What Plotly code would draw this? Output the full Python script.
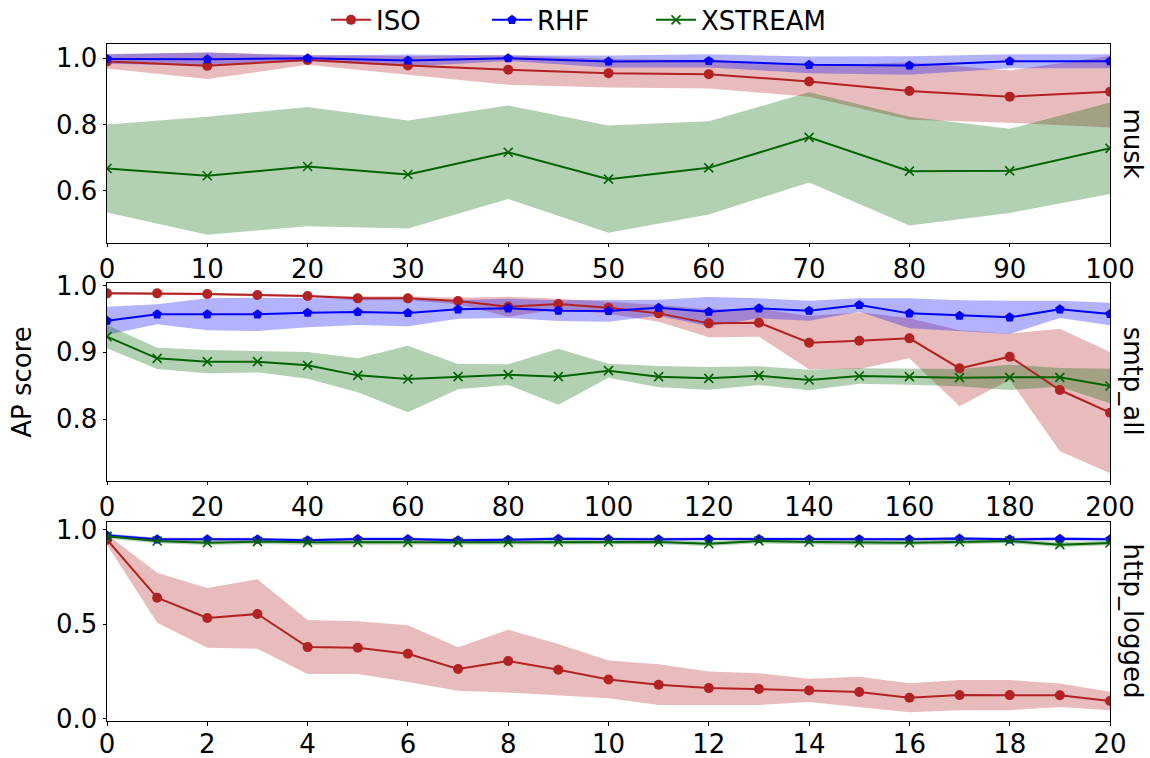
import plotly.graph_objects as go

# ---------------- data ----------------
musk_x = [0, 10, 20, 30, 40, 50, 60, 70, 80, 90, 100]
musk_iso_mean = [0.990, 0.977, 0.995, 0.978, 0.965, 0.955, 0.952, 0.930, 0.901, 0.884, 0.899]
musk_iso_std = [0.021, 0.040, 0.015, 0.028, 0.045, 0.043, 0.043, 0.046, 0.087, 0.079, 0.108]
musk_rhf_mean = [0.998, 0.997, 1.000, 0.993, 1.000, 0.990, 0.992, 0.980, 0.978, 0.991, 0.991]
musk_rhf_std = [0.015, 0.020, 0.008, 0.018, 0.008, 0.018, 0.020, 0.025, 0.028, 0.021, 0.021]
musk_xs_mean = [0.667, 0.645, 0.673, 0.649, 0.716, 0.635, 0.669, 0.761, 0.659, 0.660, 0.728]
musk_xs_std = [0.133, 0.178, 0.180, 0.163, 0.141, 0.162, 0.141, 0.136, 0.164, 0.127, 0.138]

smtp_x = [0, 10, 20, 30, 40, 50, 60, 70, 80, 90, 100,
          110, 120, 130, 140, 150, 160, 170, 180, 190, 200]
smtp_iso_mean = [0.9885, 0.9885, 0.9875, 0.986, 0.9845, 0.981, 0.981, 0.977, 0.9685, 0.9725, 0.967,
                 0.9585, 0.9435, 0.9445, 0.9145, 0.9175, 0.921, 0.876, 0.8935, 0.8435, 0.8095]
smtp_iso_std = [0.002, 0.002, 0.002, 0.002, 0.002, 0.003, 0.003, 0.005, 0.015, 0.008, 0.009,
                0.0125, 0.021, 0.021, 0.040, 0.0425, 0.030, 0.057, 0.0345, 0.092, 0.091]
smtp_rhf_mean = [0.9475, 0.957, 0.957, 0.957, 0.9595, 0.9605, 0.959, 0.9645, 0.966, 0.9625, 0.962,
                 0.967, 0.961, 0.966, 0.9625, 0.971, 0.9585, 0.955, 0.9525, 0.9645, 0.9575]
smtp_rhf_std = [0.021, 0.015, 0.024, 0.025, 0.022, 0.0195, 0.020, 0.014, 0.0145, 0.0155, 0.016,
                0.012, 0.022, 0.015, 0.015, 0.010, 0.0225, 0.023, 0.025, 0.013, 0.017]
smtp_xs_mean = [0.9235, 0.891, 0.886, 0.886, 0.8805, 0.8655, 0.860, 0.8635, 0.8665, 0.8635, 0.8725,
                0.8635, 0.861, 0.865, 0.8585, 0.8645, 0.8635, 0.862, 0.8625, 0.8625, 0.8495]
smtp_xs_std = [0.0175, 0.016, 0.0175, 0.016, 0.020, 0.0255, 0.050, 0.019, 0.0155, 0.042, 0.0105,
               0.016, 0.017, 0.014, 0.0155, 0.0115, 0.012, 0.013, 0.019, 0.014, 0.026]

http_x = list(range(0, 21))
http_iso_mean = [0.946, 0.639, 0.532, 0.553, 0.378, 0.375, 0.343, 0.262, 0.304, 0.258, 0.207,
                 0.179, 0.161, 0.156, 0.149, 0.140, 0.110, 0.124, 0.124, 0.123, 0.093]
http_iso_std = [0.027, 0.132, 0.158, 0.184, 0.143, 0.140, 0.150, 0.115, 0.166, 0.137, 0.100,
                0.108, 0.088, 0.084, 0.062, 0.081, 0.077, 0.080, 0.080, 0.062, 0.049]
http_rhf_mean = [0.969, 0.948, 0.948, 0.948, 0.943, 0.950, 0.950, 0.943, 0.946, 0.951, 0.950,
                 0.948, 0.950, 0.950, 0.948, 0.949, 0.948, 0.952, 0.948, 0.951, 0.948]
http_rhf_std = [0.010, 0.008, 0.008, 0.008, 0.008, 0.008, 0.008, 0.008, 0.008, 0.008, 0.008,
                0.008, 0.008, 0.008, 0.008, 0.008, 0.008, 0.008, 0.008, 0.008, 0.008]
http_xs_mean = [0.964, 0.939, 0.930, 0.936, 0.932, 0.932, 0.932, 0.932, 0.932, 0.934, 0.934,
                0.934, 0.925, 0.939, 0.934, 0.930, 0.930, 0.934, 0.939, 0.920, 0.929]
http_xs_std = [0.012, 0.012, 0.012, 0.012, 0.012, 0.012, 0.012, 0.012, 0.012, 0.012, 0.012,
               0.012, 0.012, 0.012, 0.012, 0.012, 0.012, 0.012, 0.012, 0.012, 0.012]

dataset_names = ["musk", "smtp_all", "http_logged"]
method_names = ["ISO", "RHF", "XSTREAM"]

# ---------------- styling ----------------
FONT = "DejaVu Sans"
FS = 26
line_colors = {"ISO": "#b22222", "RHF": "#0000ff", "XSTREAM": "#006400"}
band_colors = {"ISO": "rgba(178,34,34,0.3)", "RHF": "rgba(0,0,255,0.3)",
               "XSTREAM": "rgba(0,100,0,0.3)"}
markers = {
    "ISO": dict(symbol="circle", size=10),
    "RHF": dict(symbol="pentagon", size=10),
    "XSTREAM": dict(symbol="x-thin", size=9, line=dict(width=1.6, color="#006400")),
}
# one legend box per method, laid out in a row above the top panel
legend_ids = {"ISO": "legend", "RHF": "legend2", "XSTREAM": "legend3"}
legend_left_px = {"ISO": 326, "RHF": 487, "XSTREAM": 651}

panels = [
    dict(x=musk_x, series={"ISO": (musk_iso_mean, musk_iso_std),
                           "RHF": (musk_rhf_mean, musk_rhf_std),
                           "XSTREAM": (musk_xs_mean, musk_xs_std)},
         yrange=[0.443, 1.043], ytick=[0.6, 0.8, 1.0], xrange=[0, 100], dtick=10,
         domain=[0.7065, 1.0], standoff=0),
    dict(x=smtp_x, series={"ISO": (smtp_iso_mean, smtp_iso_std),
                           "RHF": (smtp_rhf_mean, smtp_rhf_std),
                           "XSTREAM": (smtp_xs_mean, smtp_xs_std)},
         yrange=[0.7075, 1.0045], ytick=[0.8, 0.9, 1.0], xrange=[0, 200], dtick=20,
         domain=[0.355, 0.6474], standoff=0),
    dict(x=http_x, series={"ISO": (http_iso_mean, http_iso_std),
                           "RHF": (http_rhf_mean, http_rhf_std),
                           "XSTREAM": (http_xs_mean, http_xs_std)},
         yrange=[-0.013, 1.04], ytick=[0.0, 0.5, 1.0], xrange=[0, 20], dtick=2,
         domain=[0.0, 0.294], standoff=-4),
]

fig = go.Figure()

for i, p in enumerate(panels):
    suffix = "" if i == 0 else str(i + 1)
    xa, ya = "x" + suffix, "y" + suffix
    # shaded mean +/- std bands
    for m in method_names:
        mean, std = p["series"][m]
        lower = [a - b for a, b in zip(mean, std)]
        upper = [a + b for a, b in zip(mean, std)]
        fig.add_trace(go.Scatter(x=p["x"], y=lower, xaxis=xa, yaxis=ya, mode="lines",
                                 line=dict(width=0), showlegend=False, hoverinfo="skip"))
        fig.add_trace(go.Scatter(x=p["x"], y=upper, xaxis=xa, yaxis=ya, mode="lines",
                                 line=dict(width=0), fill="tonexty",
                                 fillcolor=band_colors[m], showlegend=False, hoverinfo="skip"))
    # mean curves
    for m in method_names:
        mean, _ = p["series"][m]
        fig.add_trace(go.Scatter(x=p["x"], y=mean, xaxis=xa, yaxis=ya, mode="lines+markers",
                                 name=m, line=dict(color=line_colors[m], width=2),
                                 marker=dict(color=line_colors[m], **markers[m]),
                                 legend=legend_ids[m], showlegend=(i == 0)))

axis_common = dict(showline=True, linecolor="black", linewidth=1, mirror=True,
                   ticks="outside", ticklen=3.5, tickwidth=1, tickcolor="black",
                   showgrid=False, zeroline=False,
                   tickfont=dict(family=FONT, size=FS, color="black"))

layout_axes = {}
for i, p in enumerate(panels):
    suffix = "" if i == 0 else str(i + 1)
    layout_axes["xaxis" + suffix] = dict(axis_common, range=p["xrange"], dtick=p["dtick"],
                                         tick0=0, anchor="y" + suffix, domain=[0, 1],
                                         ticklabelstandoff=p["standoff"])
    layout_axes["yaxis" + suffix] = dict(axis_common, range=p["yrange"], tickvals=p["ytick"],
                                         tickformat=".1f", anchor="x" + suffix,
                                         domain=p["domain"])

annotations = []
for i, p in enumerate(panels):
    annotations.append(dict(text=dataset_names[i], xref="paper", yref="paper",
                            x=1.0229, y=sum(p["domain"]) / 2, textangle=90,
                            xanchor="center", yanchor="middle", showarrow=False,
                            font=dict(family=FONT, size=FS, color="black")))
annotations.append(dict(text="AP score", xref="paper", yref="paper", x=-0.0847,
                        y=sum(panels[1]["domain"]) / 2, textangle=-90,
                        xanchor="center", yanchor="middle", showarrow=False,
                        font=dict(family=FONT, size=FS, color="black")))

PLOT_L, PLOT_W = 107, 1003
legends = {}
for m in method_names:
    legends[legend_ids[m]] = dict(
        orientation="h", x=(legend_left_px[m] - PLOT_L) / PLOT_W, xanchor="left",
        y=1.0355, yanchor="middle", font=dict(family=FONT, size=FS, color="black"),
        bgcolor="rgba(0,0,0,0)", itemwidth=40)

fig.update_layout(
    width=1150, height=758,
    margin=dict(l=107, r=40, t=44, b=37, autoexpand=False),
    paper_bgcolor="white", plot_bgcolor="white",
    font=dict(family=FONT, size=FS, color="black"),
    annotations=annotations,
    showlegend=True,
    **legends,
    **layout_axes,
)

fig.write_html("out.html")
